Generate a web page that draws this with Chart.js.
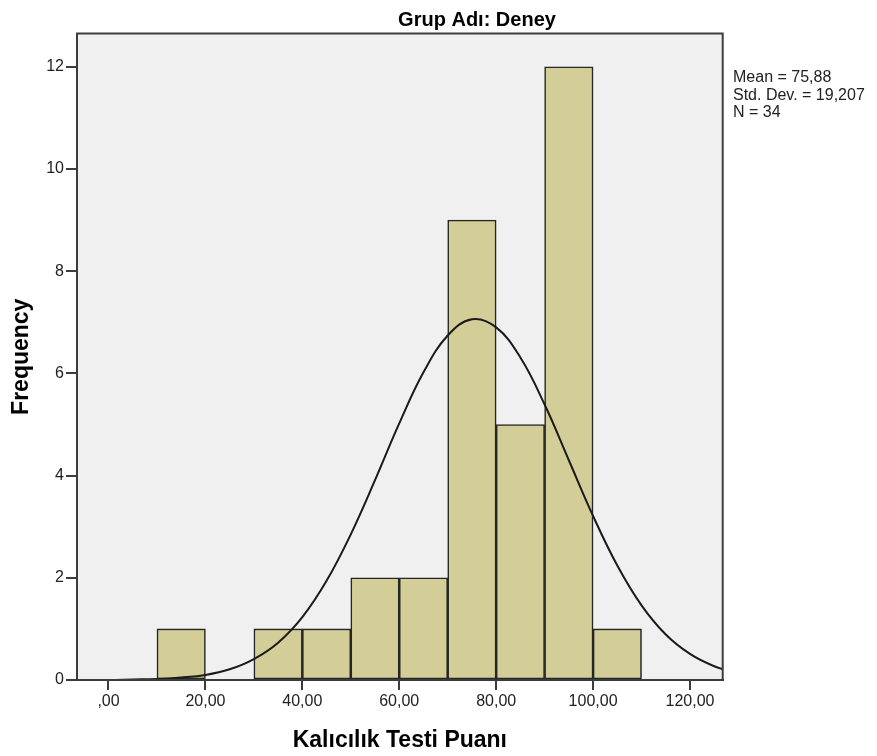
<!DOCTYPE html>
<html>
<head>
<meta charset="utf-8">
<script src="https://cdn.jsdelivr.net/npm/chart.js@4.4.1/dist/chart.umd.min.js"></script>
<style>
  html, body { margin: 0; padding: 0; background: #ffffff; }
  #wrap { width: 877px; height: 756px; position: relative; }
</style>
</head>
<body>
<div id="wrap"><canvas id="histChart"></canvas></div>
<script>
// histogram bins (centre of each 10-point bin) and counts
const binCenters = [15, 25, 35, 45, 55, 65, 75, 85, 95, 105];
const frequencies = [1, 0, 1, 1, 2, 2, 9, 5, 12, 1];

// fitted normal curve
const curveX = [-10, -5, 0, 5, 10, 15, 20, 25, 30, 35, 40, 45, 50, 55, 60, 65, 70, 75, 80, 85, 90, 95, 100, 105, 110, 115, 120, 125, 130];
const curveY = [0.00, 0.00, 0.00, 0.01, 0.02, 0.05, 0.10, 0.21, 0.41, 0.73, 1.23, 1.94, 2.85, 3.91, 5.02, 6.02, 6.74, 7.06, 6.90, 6.31, 5.39, 4.30, 3.21, 2.24, 1.46, 0.89, 0.51, 0.27, 0.13];

const statLines = ['Mean = 75,88', 'Std. Dev. = 19,207', 'N = 34'];
const chartTitle = 'Grup Adı: Deney';
const xTitle = 'Kalıcılık Testi Puanı';
const yTitle = 'Frequency';

const inkColor = '#222222';
const frameColor = '#3c3c3c';
const plotBg = '#f0f0f0';
const barFill = '#d3ce97';
const fontName = "'Liberation Sans', Arial, sans-serif";

function formatComma(value) {
    if (value === 0) return ',00';
    return value.toFixed(2).replace('.', ',');
}

const frameAndText = {
    id: 'frameAndText',
    beforeDraw(chart) {
        const { ctx, chartArea: a } = chart;
        ctx.save();
        ctx.fillStyle = plotBg;
        ctx.fillRect(a.left, a.top, a.right - a.left, a.bottom - a.top);
        ctx.restore();
    },
    afterDraw(chart) {
        const { ctx, chartArea: a } = chart;
        ctx.save();
        ctx.strokeStyle = frameColor;
        ctx.lineWidth = 2;
        ctx.strokeRect(a.left, a.top, a.right - a.left, a.bottom - a.top);

        ctx.fillStyle = '#000';
        ctx.font = 'bold 20px ' + fontName;
        ctx.textAlign = 'center';
        ctx.textBaseline = 'alphabetic';
        ctx.fillText(chartTitle, 477, 26);

        ctx.fillStyle = inkColor;
        ctx.font = '16px ' + fontName;
        ctx.textAlign = 'left';
        statLines.forEach((line, i) => ctx.fillText(line, 733, 82 + i * 17.5));
        ctx.restore();
    }
};

new Chart(document.getElementById('histChart'), {
    data: {
        datasets: [
            {
                type: 'line',
                data: curveX.map((x, i) => ({ x: x, y: curveY[i] })),
                borderColor: '#1a1a1a',
                borderWidth: 2,
                pointRadius: 0,
                tension: 0.4,
                fill: false,
                order: 0,
            },
            {
                type: 'bar',
                data: binCenters.map((x, i) => ({ x: x, y: frequencies[i] })),
                backgroundColor: barFill,
                borderColor: '#262626',
                borderWidth: ctx => (ctx.raw && ctx.raw.y === 0 ? 0 : 1.6),
                borderSkipped: false,
                barPercentage: 1,
                categoryPercentage: 1,
                order: 1,
            },
        ],
    },
    options: {
        responsive: true,
        maintainAspectRatio: false,
        animation: false,
        layout: { padding: { top: 33.5, right: 154.3, left: 0, bottom: 0 } },
        plugins: { legend: { display: false }, tooltip: { enabled: false } },
        scales: {
            x: {
                type: 'linear',
                min: -6.5,
                max: 126.75,
                offset: false,
                afterFit: scale => { scale.height = 76; },
                ticks: {
                    stepSize: 20,
                    includeBounds: false,
                    color: inkColor,
                    padding: 2,
                    font: { family: fontName, size: 16 },
                    callback: value => formatComma(value),
                },
                grid: { offset: false, drawOnChartArea: false, drawTicks: true, tickLength: 10, color: frameColor, lineWidth: 2 },
                border: { display: true, color: frameColor, width: 2 },
                title: {
                    display: true,
                    text: xTitle,
                    color: '#000',
                    font: { family: fontName, size: 23, weight: 'bold' },
                    padding: { top: 0, bottom: 2 },
                },
            },
            y: {
                min: 0,
                max: 12.65,
                afterFit: scale => { scale.width = 77; },
                ticks: {
                    stepSize: 2,
                    includeBounds: false,
                    color: inkColor,
                    padding: 2,
                    font: { family: fontName, size: 16 },
                },
                grid: { drawOnChartArea: false, drawTicks: true, tickLength: 11, color: frameColor, lineWidth: 2 },
                border: { display: true, color: frameColor, width: 2 },
                title: {
                    display: true,
                    text: yTitle,
                    color: '#000',
                    font: { family: fontName, size: 23, weight: 'bold' },
                    padding: { top: 8, bottom: 0 },
                },
            },
        },
    },
    plugins: [frameAndText],
});
</script>
</body>
</html>
